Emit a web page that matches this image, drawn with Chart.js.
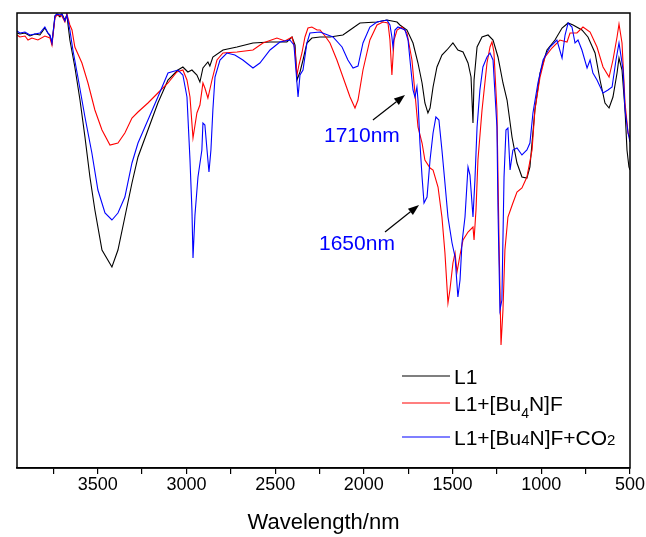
<!DOCTYPE html>
<html>
<head>
<meta charset="utf-8">
<script src="https://cdn.jsdelivr.net/npm/chart.js@4.4.0/dist/chart.umd.min.js"></script>
<style>
  html, body { margin: 0; padding: 0; background: #fff; }
  #wrap { width: 646px; height: 537px; position: relative; }
</style>
</head>
<body>
<div id="wrap"><canvas id="c" width="646" height="537"></canvas></div>
<script>
// ---------- data (wavenumber, transmittance in arbitrary units) ----------
const seriesNames = ['L1', 'L1+[Bu4N]F', 'L1+[Bu4N]F+CO2'];
const xTickValues = [3500, 3000, 2500, 2000, 1500, 1000, 500];

const l1X = [3955,3939,3910,3882,3854,3826,3798,3781,3769,3758,3741,3730,3713,3702,3685,3674,3657,3629,3600,3572,3544,3516,3476,3420,3386,3347,3307,3273,3217,3161,3104,3048,3020,2992,2969,2941,2924,2907,2879,2868,2851,2794,2715,2625,2529,2434,2405,2388,2377,2360,2343,2321,2293,2247,2191,2118,2078,2022,1926,1870,1813,1797,1757,1723,1695,1672,1656,1639,1627,1610,1588,1560,1532,1498,1470,1441,1413,1396,1385,1379,1362,1334,1300,1272,1244,1216,1193,1165,1137,1109,1081,1064,1036,1007,968,923,883,849,821,771,737,697,669,641,618,596,573,562,545,528,517,506,500];
const l1Y = [435,434,435,432,434,433,440,435,432,425,452,454,451,454,448,453,428,401,368,331,291,258,218,201,218,251,285,311,338,365,388,398,401,396,398,393,386,400,406,402,411,418,421,425,426,426,431,423,388,396,408,425,430,431,431,433,438,445,446,448,446,443,438,425,405,385,365,355,360,381,401,413,418,425,418,416,405,391,345,388,421,431,433,428,411,385,368,331,305,291,290,301,358,395,418,428,440,445,443,438,431,415,388,365,360,371,395,410,398,358,318,301,298];

const fX = [3955,3939,3910,3893,3871,3837,3798,3769,3758,3741,3730,3702,3685,3674,3657,3645,3629,3589,3555,3516,3476,3431,3386,3347,3307,3273,3217,3161,3104,3054,3020,2997,2980,2963,2941,2924,2907,2896,2879,2856,2828,2794,2715,2625,2569,2490,2445,2405,2388,2377,2366,2349,2332,2315,2293,2264,2247,2219,2191,2152,2118,2078,2050,2033,2005,1966,1926,1892,1864,1853,1842,1830,1813,1785,1757,1729,1712,1695,1672,1656,1627,1610,1582,1560,1543,1526,1515,1498,1486,1475,1458,1441,1413,1385,1379,1368,1357,1334,1306,1289,1278,1267,1250,1238,1227,1216,1205,1188,1160,1137,1109,1081,1052,1036,1007,979,940,895,855,838,799,765,725,686,652,618,596,573,562,545,528,511,500];
const fY = [433,431,432,428,430,428,432,430,423,450,453,452,446,454,443,438,421,405,385,358,338,323,325,335,350,356,365,375,385,396,398,388,371,330,355,363,385,380,370,388,408,415,416,418,425,430,427,431,418,393,403,415,431,440,441,438,438,432,425,408,391,371,360,368,398,428,443,446,445,428,393,428,438,441,435,408,375,341,325,308,300,298,281,251,215,165,178,205,215,196,213,228,236,241,228,258,308,358,405,421,426,416,358,225,123,158,218,251,265,276,280,291,318,358,391,411,420,428,426,435,435,441,436,421,401,391,408,431,444,425,365,335,330];

const co2X = [3955,3939,3910,3882,3854,3826,3798,3781,3769,3758,3741,3730,3713,3702,3685,3674,3657,3640,3612,3572,3533,3499,3459,3420,3386,3347,3307,3273,3217,3161,3104,3048,3020,2997,2980,2969,2963,2952,2935,2913,2907,2896,2884,2873,2862,2851,2839,2811,2772,2727,2682,2625,2586,2529,2473,2417,2394,2377,2371,2360,2343,2321,2304,2247,2174,2123,2090,2061,2033,2005,1966,1926,1870,1853,1842,1836,1825,1808,1768,1751,1740,1723,1712,1701,1695,1684,1672,1661,1644,1627,1610,1594,1577,1560,1543,1526,1503,1486,1470,1458,1447,1430,1413,1402,1385,1374,1362,1346,1329,1306,1289,1272,1250,1244,1233,1222,1210,1199,1188,1176,1160,1137,1109,1081,1064,1047,1019,990,951,912,883,866,849,827,810,793,771,742,725,709,686,652,624,601,579,562,539,528,511,500];
const co2Y = [437,435,436,433,434,435,441,435,433,425,452,454,453,454,447,453,438,418,391,351,315,278,255,248,255,271,305,325,348,371,395,398,393,371,308,258,210,253,291,318,345,343,318,296,318,358,391,408,415,413,408,400,405,418,426,428,423,385,371,393,398,425,435,436,431,421,408,400,402,425,441,446,448,443,431,421,438,441,438,428,408,378,371,381,368,325,291,265,271,308,335,351,348,318,285,251,225,211,171,188,225,251,301,293,251,288,341,378,401,411,415,408,341,258,158,168,291,338,340,298,318,320,313,318,325,355,385,408,421,428,410,433,445,441,425,428,418,400,408,395,388,375,378,381,408,425,398,358,335,326];

// annotation labels anchored in data coordinates
const annotationLabels = ['1710nm', '1650nm'];
const annotationTextAt = [[2011, 332], [2039, 224]];
const annotationArrowFrom = [[1949, 348], [1881, 236]];
const annotationArrowTo = [[1768, 373], [1689, 263]];

// ---------- helpers ----------
function zip(xs, ys) { return xs.map((x, i) => ({ x: x, y: ys[i] })); }
const FONT = "'Liberation Sans', Arial, sans-serif";
const seriesColors = ['#000000', '#ff0000', '#0000ff'];

const framePlugin = {
  id: 'frame',
  afterDatasetsDraw(chart) {
    const a = chart.chartArea, ctx = chart.ctx;
    ctx.save();
    ctx.strokeStyle = '#000';
    ctx.lineWidth = 1.5;
    ctx.strokeRect(a.left, a.top, a.right - a.left, a.bottom - a.top);
    ctx.restore();
  }
};

const annotationPlugin = {
  id: 'annot',
  afterDraw(chart) {
    const xs = chart.scales.x, ys = chart.scales.y, ctx = chart.ctx;
    ctx.save();
    for (let i = 0; i < annotationLabels.length; i++) {
      const fx = xs.getPixelForValue(annotationArrowFrom[i][0]);
      const fy = ys.getPixelForValue(annotationArrowFrom[i][1]);
      const tx = xs.getPixelForValue(annotationArrowTo[i][0]);
      const ty = ys.getPixelForValue(annotationArrowTo[i][1]);
      const ang = Math.atan2(ty - fy, tx - fx);
      const hl = 11, hw = 4;
      ctx.strokeStyle = '#000';
      ctx.fillStyle = '#000';
      ctx.lineWidth = 1.2;
      ctx.beginPath();
      ctx.moveTo(fx, fy);
      ctx.lineTo(tx - hl * Math.cos(ang), ty - hl * Math.sin(ang));
      ctx.stroke();
      ctx.beginPath();
      ctx.moveTo(tx, ty);
      ctx.lineTo(tx - hl * Math.cos(ang) - hw * Math.sin(ang), ty - hl * Math.sin(ang) + hw * Math.cos(ang));
      ctx.lineTo(tx - hl * Math.cos(ang) + hw * Math.sin(ang), ty - hl * Math.sin(ang) - hw * Math.cos(ang));
      ctx.closePath();
      ctx.fill();
      const px = xs.getPixelForValue(annotationTextAt[i][0]);
      const py = ys.getPixelForValue(annotationTextAt[i][1]);
      ctx.fillStyle = '#0000ff';
      ctx.font = '21px ' + FONT;
      ctx.textAlign = 'center';
      ctx.textBaseline = 'middle';
      ctx.fillText(annotationLabels[i], px, py);
    }
    ctx.restore();
  }
};

// legend with chemical sub-scripts, drawn in the chart area
const legendRich = [
  [{ t: 'L1' }],
  [{ t: 'L1+[Bu' }, { t: '4', size: 14, dy: 7 }, { t: 'N]F' }],
  [{ t: 'L1+[Bu' }, { t: '4', size: 15, dy: 0 }, { t: 'N]F+CO' }, { t: '2', size: 15, dy: 0 }]
];
const richLegendPlugin = {
  id: 'richLegend',
  afterDraw(chart) {
    const a = chart.chartArea, ctx = chart.ctx;
    const rowsY = [a.bottom - 92, a.bottom - 65, a.bottom - 31];
    const x0 = a.right - 228, x1 = a.right - 180, tx = a.right - 176;
    ctx.save();
    chart.data.datasets.forEach((ds, i) => {
      const y = rowsY[i];
      ctx.strokeStyle = ds.borderColor;
      ctx.lineWidth = 1.2;
      ctx.beginPath();
      ctx.moveTo(x0, y);
      ctx.lineTo(x1, y);
      ctx.stroke();
      let x = tx;
      const base = y + 7.5;
      ctx.fillStyle = '#000';
      ctx.textAlign = 'left';
      ctx.textBaseline = 'alphabetic';
      legendRich[i].forEach(part => {
        ctx.font = (part.size || 21) + 'px ' + FONT;
        ctx.fillText(part.t, x, base + (part.dy || 0));
        x += ctx.measureText(part.t).width;
      });
    });
    ctx.restore();
  }
};

new Chart(document.getElementById('c'), {
  type: 'line',
  data: {
    datasets: [
      { label: seriesNames[0], data: zip(l1X, l1Y), borderColor: seriesColors[0], order: 3 },
      { label: seriesNames[1], data: zip(fX, fY), borderColor: seriesColors[1], order: 2 },
      { label: seriesNames[2], data: zip(co2X, co2Y), borderColor: seriesColors[2], order: 1 }
    ].map(d => Object.assign(d, { borderWidth: 1.1, pointRadius: 0, tension: 0, fill: false }))
  },
  options: {
    responsive: false,
    animation: false,
    layout: { padding: { left: 17, right: 16, top: 13, bottom: 1 } },
    plugins: { legend: { display: false }, tooltip: { enabled: false } },
    scales: {
      x: {
        type: 'linear',
        reverse: true,
        min: 500,
        max: 3955,
        afterBuildTicks(scale) {
          const t = [];
          for (let v = 750; v <= 3750; v += 250) if (v % 500 !== 0) t.push(v);
          scale.ticks = xTickValues.concat(t).sort((a, b) => a - b).map(v => ({ value: v }));
        },
        ticks: {
          autoSkip: false,
          maxRotation: 0,
          padding: 0,
          color: '#000',
          font: { family: FONT, size: 18 },
          callback: v => (xTickValues.includes(v) ? String(v) : '')
        },
        grid: { drawOnChartArea: false, drawTicks: true, tickLength: 6, color: '#000', lineWidth: 1.2 },
        border: { display: true, color: '#000', width: 1.5 },
        title: { display: true, text: 'Wavelength/nm', color: '#000', font: { family: FONT, size: 22 }, padding: { top: 14, bottom: 0 } }
      },
      y: { display: false, min: 0, max: 455 }
    }
  },
  plugins: [framePlugin, annotationPlugin, richLegendPlugin]
});
</script>
</body>
</html>
